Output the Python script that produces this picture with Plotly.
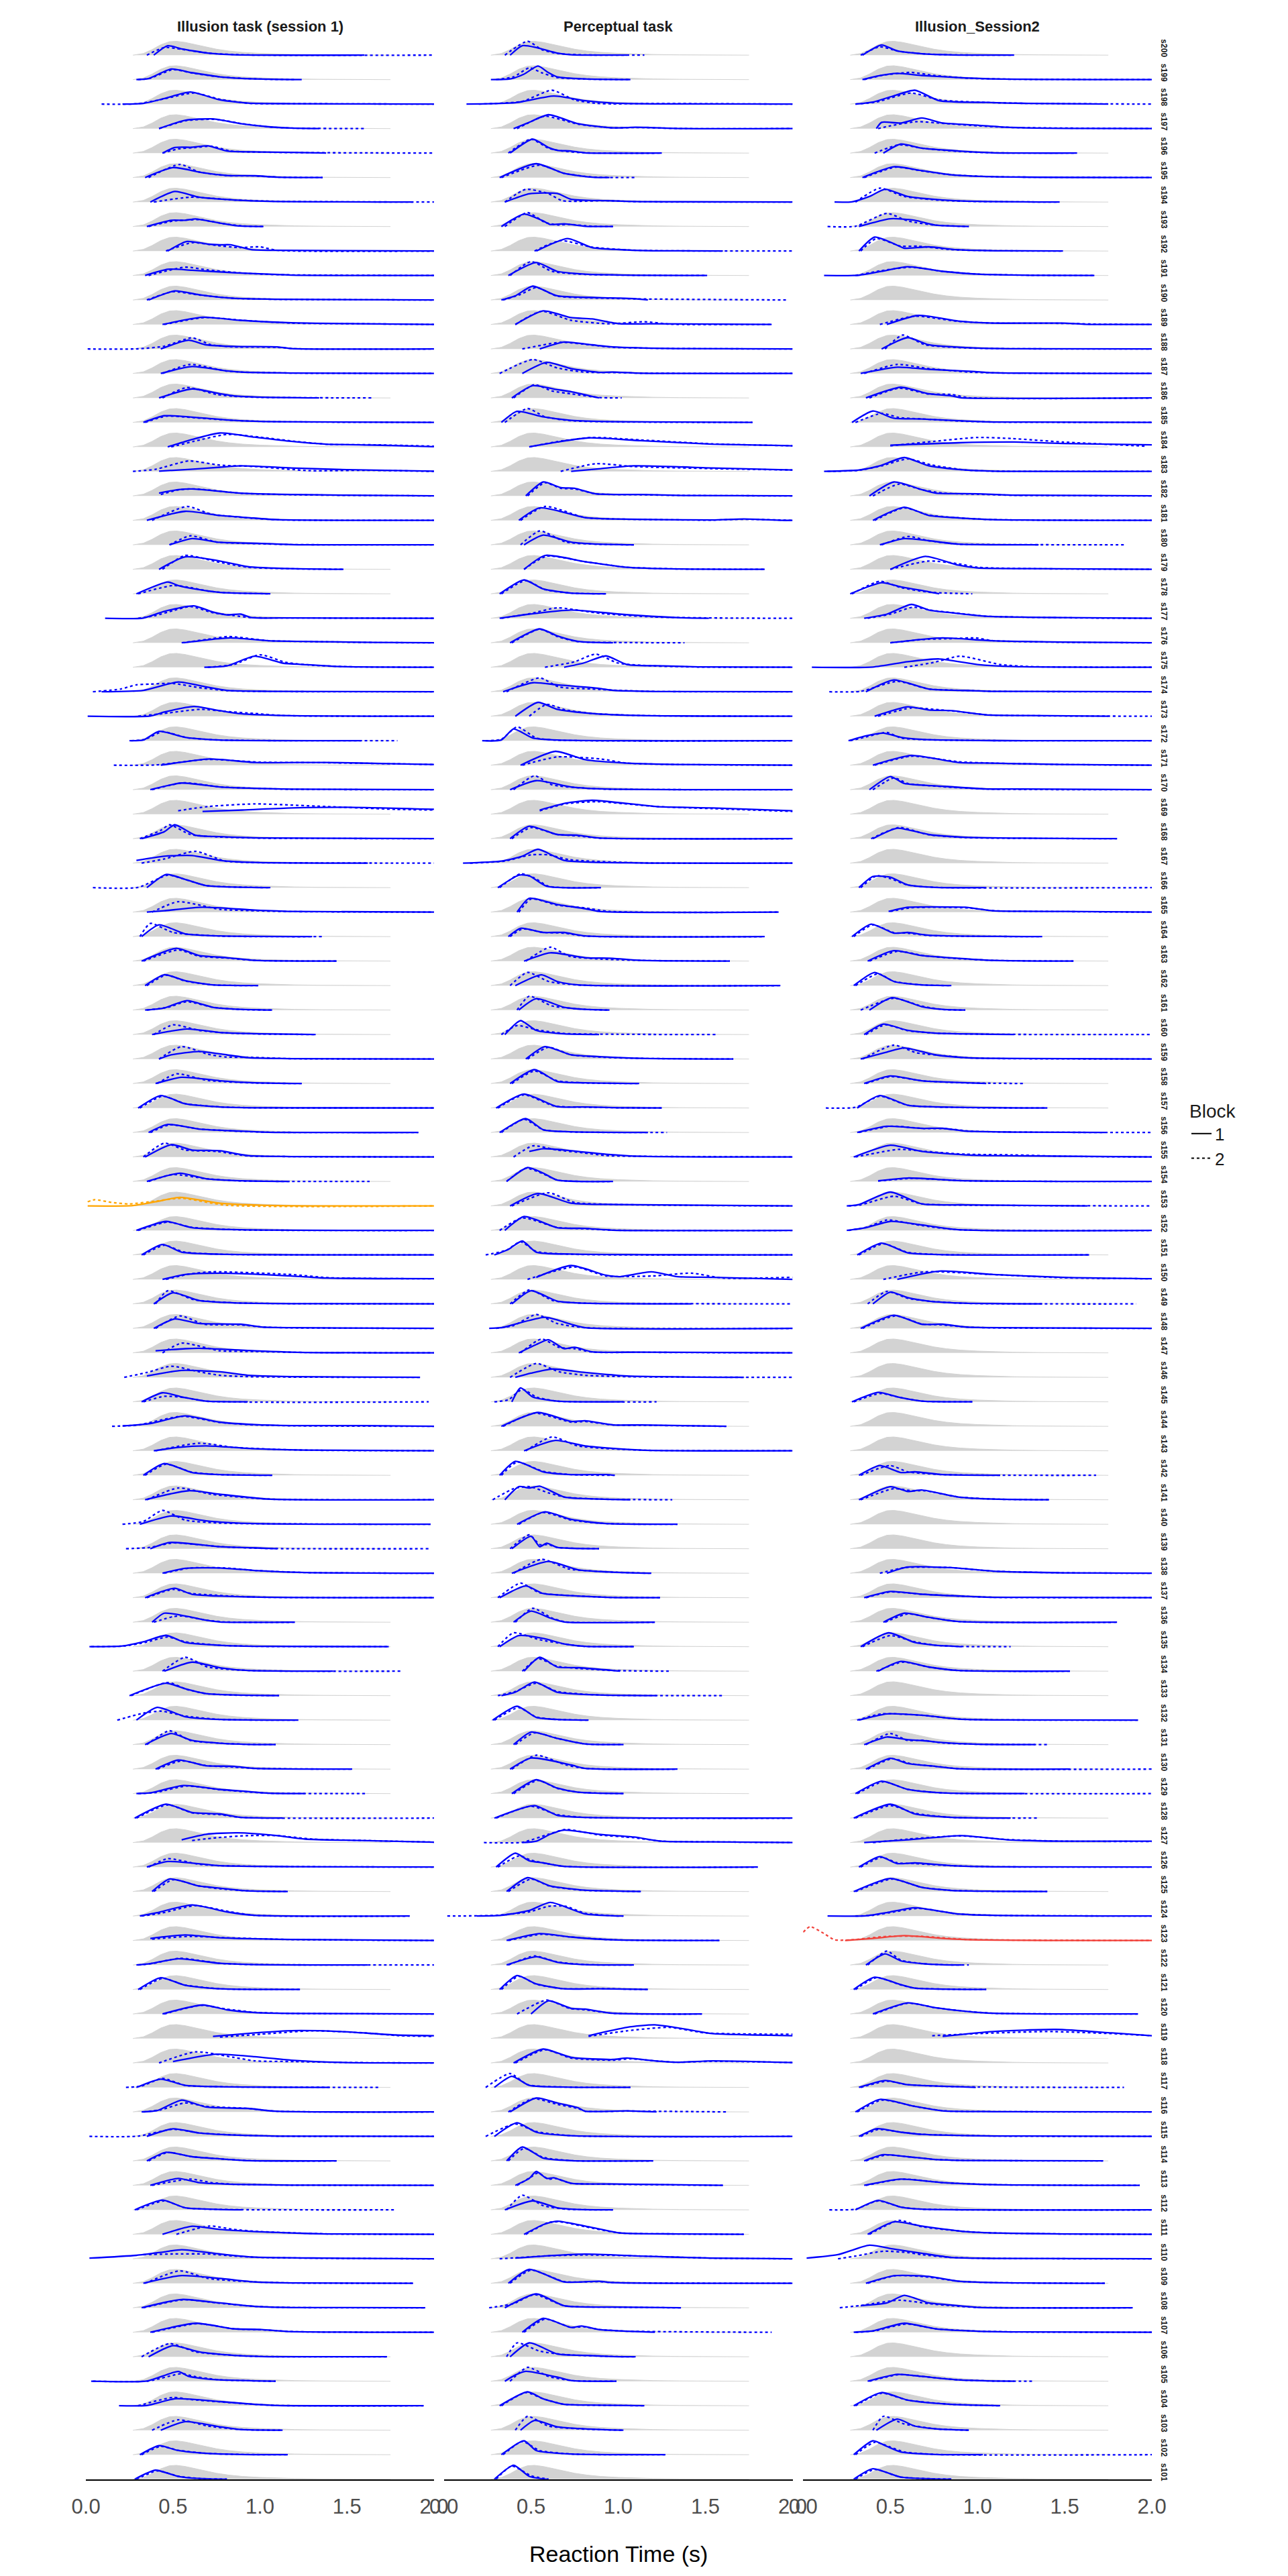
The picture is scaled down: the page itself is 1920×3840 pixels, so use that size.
import plotly.graph_objects as go

# ---------------- data ----------------
TASKS = ["Illusion task (session 1)", "Perceptual task", "Illusion_Session2"]
SUBJECTS = ["s%d" % n for n in range(200, 100, -1)]   # top row s200 ... bottom row s101

# group-level reference density (grey), x in s, height relative to its peak
GREY_X = [0.27, 0.33, 0.38, 0.43, 0.48, 0.52, 0.57, 0.62, 0.68, 0.75, 0.82, 0.90, 1.00, 1.10, 1.20, 1.35, 1.50, 1.75]
GREY_H = [0.00, 0.12, 0.40, 0.75, 0.97, 1.00, 0.92, 0.78, 0.60, 0.43, 0.30, 0.20, 0.13, 0.08, 0.05, 0.025, 0.01, 0.00]

# per-subject densities, "x:height" key points ("" = no data)
P1_B1 = [
"0.39:0,0.47:0.68,0.55:0.45,0.62:0.3,0.7:0.15,0.85:0.03,1.6:0",
"0.29:0,0.36:0.08,0.49:0.76,0.61:0.5,0.77:0.2,0.97:0.05,1.24:0",
"0.21:0,0.33:0.05,0.45:0.4,0.6:0.87,0.77:0.3,0.93:0.08,1.18:0.03,2.0:0",
"0.42:0,0.57:0.6,0.73:0.7,0.89:0.35,1.05:0.13,1.18:0.04,1.34:0",
"0.44:0,0.51:0.4,0.61:0.42,0.7:0.52,0.81:0.15,1.0:0.08,1.18:0.05,1.38:0",
"0.34:0,0.5:0.72,0.67:0.35,0.81:0.15,0.97:0.13,1.1:0.03,1.36:0",
"0.37:0,0.51:0.76,0.65:0.35,0.85:0.15,1.05:0.05,1.88:0",
"0.35:0,0.49:0.45,0.57:0.45,0.63:0.55,0.77:0.25,0.87:0.05,1.02:0",
"0.47:0,0.58:0.69,0.7:0.5,0.77:0.45,0.83:0.45,0.95:0.1,1.1:0.05,2.0:0",
"0.34:0,0.47:0.45,0.61:0.38,0.85:0.2,1.1:0.08,1.18:0.03,2.0:0",
"0.36:0,0.51:0.65,0.65:0.38,0.85:0.12,1.1:0.05,2.0:0",
"0.44:0,0.67:0.52,0.89:0.3,1.18:0.12,1.58:0.05,2.0:0",
"0.43:0,0.59:0.63,0.69:0.3,0.85:0.18,1.1:0.15,1.18:0.03,2.0:0",
"0.43:0,0.61:0.5,0.81:0.18,0.89:0.1,1.18:0.03,2.0:0",
"0.42:0,0.61:0.65,0.77:0.3,0.85:0.15,1.01:0.05,1.34:0",
"0.33:0,0.45:0.48,0.61:0.38,0.85:0.15,1.1:0.05,2.0:0",
"0.47:0,0.6:0.5,0.77:1.0,0.97:0.7,1.18:0.4,1.38:0.2,1.66:0.13,2.0:0.02",
"0.42:0.02,0.6:0.15,0.77:0.3,0.89:0.4,1.18:0.25,1.5:0.12,2.0:0.02",
"0.42:0.2,0.53:0.45,0.61:0.5,0.89:0.2,1.18:0.1,1.5:0.05,2.0:0",
"0.35:0,0.57:0.65,0.77:0.35,0.93:0.2,1.1:0.05,2.0:0",
"0.48:0,0.61:0.45,0.77:0.18,1.01:0.1,1.18:0.02,2.0:0",
"0.42:0,0.57:0.9,0.77:0.6,0.93:0.2,1.18:0.05,1.48:0",
"0.29:0,0.47:0.85,0.53:0.6,0.65:0.3,0.77:0.1,1.06:0",
"0.11:0,0.33:0.02,0.45:0.5,0.62:0.9,0.73:0.45,0.81:0.25,0.89:0.3,0.95:0.05,1.18:0.03,2.0:0",
"0.56:0,0.69:0.2,0.83:0.35,1.05:0.15,1.38:0.08,1.66:0.03,2.0:0",
"0.68:0,0.81:0.1,0.97:0.8,1.13:0.3,1.25:0.2,1.46:0.05,2.0:0",
"0.09:0,0.33:0.1,0.53:0.7,0.69:0.35,0.81:0.1,1.05:0.03,2.0:0",
"0.01:0,0.37:0.02,0.45:0.3,0.62:0.7,0.77:0.4,0.89:0.18,1.13:0.05,2.0:0",
"0.25:0,0.33:0.05,0.42:0.68,0.57:0.25,0.77:0.05,1.58:0",
"0.43:0,0.71:0.45,0.97:0.2,1.38:0.2,1.78:0.1,2.0:0.05",
"0.37:0,0.55:0.48,0.77:0.2,0.97:0.1,1.18:0.04,2.0:0",
"0.67:0.2,0.9:0.3,1.18:0.45,1.5:0.5,2.0:0.35",
"0.32:0,0.45:0.5,0.51:1.0,0.63:0.25,0.77:0.15,1.01:0.05,2.0:0",
"0.29:0.2,0.45:0.5,0.61:0.55,0.77:0.2,0.97:0.05,1.62:0",
"0.35:0,0.46:0.95,0.57:0.6,0.69:0.15,1.06:0",
"0.35:0,0.45:0.1,0.67:0.35,0.97:0.15,1.18:0.05,2.0:0",
"0.32:0,0.42:0.85,0.57:0.2,0.77:0.05,1.3:0",
"0.32:0,0.52:0.92,0.65:0.4,0.81:0.25,0.97:0.05,1.44:0",
"0.34:0,0.45:0.78,0.57:0.35,0.73:0.05,0.99:0",
"0.34:0,0.45:0.15,0.58:0.68,0.73:0.2,0.89:0.05,1.07:0",
"0.38:0,0.58:0.4,0.77:0.15,1.01:0.05,1.32:0",
"0.42:0,0.49:0.3,0.65:0.55,0.81:0.3,0.93:0.1,1.18:0.03,2.0:0",
"0.4:0,0.55:0.45,0.77:0.2,0.97:0.05,1.24:0",
"0.3:0,0.43:0.9,0.57:0.3,0.77:0.08,0.97:0.02,2.0:0",
"0.36:0,0.47:0.58,0.65:0.25,0.89:0.1,1.05:0.02,1.91:0",
"0.34:0,0.49:0.89,0.61:0.5,0.77:0.45,0.93:0.1,1.18:0.03,2.0:0",
"0.35:0,0.54:0.6,0.69:0.2,0.89:0.05,1.17:0",
"0.01:0,0.27:0.03,0.4:0.3,0.54:0.62,0.77:0.2,1.1:0.03,2.0:0",
"0.29:0,0.46:0.65,0.61:0.2,0.89:0.05,2.0:0",
"0.32:0,0.44:0.75,0.55:0.2,0.77:0.05,2.0:0",
"0.44:0,0.57:0.35,0.77:0.45,1.18:0.25,1.38:0.1,2.0:0.05",
"0.39:0,0.5:0.8,0.65:0.25,0.85:0.08,1.18:0.02,2.0:0",
"0.39:0,0.51:0.68,0.65:0.35,0.89:0.3,1.01:0.1,1.18:0.05,2.0:0",
"0.4:0.15,0.57:0.3,0.65:0.33,0.97:0.15,1.26:0.03,2.0:0",
"0.35:0.1,0.55:0.5,0.77:0.4,0.93:0.15,1.18:0.05,1.92:0",
"0.32:0,0.44:0.65,0.57:0.3,0.69:0.05,0.93:0",
"0.21:0.03,0.37:0.2,0.57:0.75,0.77:0.3,0.97:0.12,1.18:0.05,1.58:0.05,2.0:0",
"0.39:0,0.53:0.25,0.69:0.35,0.97:0.15,1.26:0.05,2.0:0",
"0.33:0,0.45:0.85,0.61:0.2,0.77:0.05,1.07:0",
"0.34:0,0.59:0.65,0.77:0.4,1.05:0.05,2.0:0",
"0.31:0,0.49:0.6,0.69:0.25,0.97:0.05,1.98:0",
"0.37:0,0.48:0.45,0.77:0.15,1.05:0.03,1.1:0",
"0.44:0,0.57:0.35,0.77:0.38,0.97:0.2,1.26:0.05,2.0:0",
"0.34:0,0.51:0.68,0.61:0.25,0.97:0.05,2.0:0",
"0.38:0,0.45:0.65,0.57:0.45,0.69:0.15,0.77:0.02,1.2:0",
"0.02:0,0.21:0.05,0.33:0.35,0.46:0.82,0.57:0.3,0.77:0.1,0.97:0.03,1.74:0",
"0.45:0,0.61:0.65,0.77:0.25,0.93:0.05,1.42:0",
"0.25:0,0.46:0.9,0.57:0.5,0.69:0.15,0.85:0.05,1.11:0",
"0.29:0,0.41:0.92,0.57:0.25,0.77:0.05,1.22:0",
"0.34:0,0.49:0.8,0.61:0.3,0.77:0.1,0.93:0.02,1.09:0",
"0.4:0,0.53:0.65,0.69:0.25,0.85:0.2,0.97:0.05,1.53:0",
"0.29:0,0.37:0.05,0.56:0.58,0.77:0.3,0.93:0.15,1.05:0.03,1.26:0",
"0.28:0,0.46:1.0,0.61:0.4,0.77:0.3,0.89:0.05,1.13:0",
"0.55:0.2,0.69:0.6,0.87:0.7,1.1:0.5,1.26:0.25,1.58:0.15,2.0:0.03",
"0.35:0,0.47:0.4,0.77:0.1,1.18:0.03,2.0:0",
"0.38:0,0.48:0.9,0.65:0.4,0.77:0.25,0.93:0.05,1.16:0",
"0.31:0,0.41:0.25,0.61:0.8,0.81:0.3,0.97:0.05,1.86:0",
"0.37:0.15,0.57:0.4,0.77:0.2,1.18:0.08,2.0:0",
"0.29:0,0.37:0.1,0.53:0.45,0.77:0.12,0.97:0.03,1.62:0",
"0.3:0,0.43:0.85,0.57:0.3,0.77:0.05,1.23:0",
"0.44:0,0.67:0.65,0.81:0.3,0.97:0.1,1.18:0.04,2.0:0",
"0.73:0.15,0.97:0.4,1.18:0.56,1.46:0.5,1.78:0.25,2.0:0.2",
"0.5:0.1,0.75:0.63,0.97:0.45,1.18:0.2,1.5:0.03,2.0:0",
"0.29:0,0.43:0.6,0.57:0.15,0.77:0.05,1.4:0",
"0.32:0,0.41:0.1,0.55:0.85,0.69:0.35,0.93:0.25,1.09:0.05,2.0:0",
"0.35:0,0.5:0.55,0.65:0.25,0.85:0.1,1.1:0.02,2.0:0",
"0.35:0,0.46:0.62,0.61:0.3,0.77:0.15,0.93:0.02,1.44:0",
"0.37:0,0.53:0.5,0.65:0.2,0.85:0.08,1.18:0.02,2.0:0",
"0.28:0,0.44:0.7,0.57:0.15,0.77:0.03,0.9:0",
"0.44:0,0.61:0.58,0.77:0.35,0.97:0.2,1.18:0.1,1.38:0.03,2.0:0",
"0.02:0.05,0.29:0.25,0.45:0.5,0.55:0.66,0.77:0.35,0.97:0.12,1.38:0.05,2.0:0",
"0.33:0,0.54:0.55,0.77:0.35,0.97:0.1,1.18:0.03,1.88:0",
"0.32:0,0.55:0.6,0.77:0.35,0.97:0.1,1.18:0.02,1.95:0",
"0.37:0,0.63:0.65,0.85:0.25,1.01:0.2,1.18:0.05,2.0:0",
"0.36:0,0.5:0.8,0.65:0.35,0.85:0.1,1.01:0.02,1.73:0",
"0.03:0,0.35:0.02,0.53:0.7,0.59:0.35,0.67:0.2,0.77:0.1,1.09:0",
"0.19:0,0.35:0.02,0.51:0.5,0.77:0.3,0.97:0.1,1.1:0.02,1.94:0",
"0.43:0,0.57:0.62,0.77:0.25,0.89:0.05,1.13:0",
"0.31:0,0.42:0.65,0.53:0.3,0.69:0.1,0.89:0.02,1.16:0",
"0.28:0,0.4:0.65,0.53:0.2,0.65:0.05,0.81:0",
]

P1_B2 = [
"0.35:0,0.45:0.55,0.55:0.42,0.7:0.15,0.9:0.02,2.0:0",
"0.3:0,0.37:0.1,0.5:0.72,0.62:0.45,0.77:0.2,0.97:0.05,1.2:0",
"0.09:0,0.3:0.03,0.45:0.38,0.62:0.8,0.77:0.35,0.93:0.06,1.2:0.03,2.0:0",
"0.42:0,0.58:0.58,0.75:0.66,0.9:0.35,1.05:0.12,1.2:0.03,1.6:0",
"0.44:0,0.53:0.3,0.63:0.4,0.72:0.5,0.83:0.15,1.1:0.05,2.0:0",
"0.36:0,0.54:0.95,0.65:0.4,0.81:0.14,0.97:0.12,1.1:0.03,1.36:0",
"0.39:0,0.6:0.35,0.85:0.15,1.1:0.05,2.0:0",
"0.36:0,0.5:0.4,0.6:0.48,0.66:0.5,0.78:0.22,0.9:0.04,1.02:0",
"0.46:0,0.61:0.6,0.75:0.4,0.88:0.25,1.0:0.3,1.1:0.05,2.0:0",
"0.36:0,0.57:0.6,0.7:0.4,0.9:0.18,1.1:0.06,2.0:0",
"0.35:0,0.5:0.6,0.65:0.36,0.85:0.12,1.1:0.05,2.0:0",
"0.45:0,0.68:0.5,0.9:0.3,1.18:0.1,1.58:0.05,2.0:0",
"0.01:0,0.3:0.01,0.45:0.2,0.61:0.8,0.72:0.3,0.85:0.15,1.1:0.12,1.2:0.02,2.0:0",
"0.44:0,0.6:0.65,0.8:0.18,0.89:0.1,1.18:0.03,2.0:0",
"0.44:0,0.58:0.75,0.75:0.25,0.85:0.12,1.01:0.04,1.64:0",
"0.34:0,0.46:0.45,0.61:0.35,0.85:0.14,1.1:0.05,2.0:0",
"0.49:0,0.62:0.4,0.81:0.9,1.0:0.7,1.2:0.4,1.4:0.18,1.66:0.15,2.0:0.05",
"0.27:0,0.4:0.15,0.59:0.75,0.77:0.45,0.97:0.35,1.29:0.05,1.6:0.08,2.0:0",
"0.43:0.1,0.54:0.45,0.63:0.5,0.9:0.18,1.2:0.08,1.5:0.04,2.0:0",
"0.38:0,0.58:1.0,0.72:0.45,0.93:0.18,1.1:0.04,2.0:0",
"0.48:0,0.6:0.65,0.75:0.2,1.0:0.08,1.18:0.02,2.0:0",
"0.44:0,0.57:1.0,0.75:0.55,0.93:0.15,1.18:0.04,1.48:0",
"0.3:0,0.5:0.6,0.6:0.45,0.7:0.2,0.8:0.08,1.06:0",
"0.3:0,0.4:0.2,0.5:0.55,0.6:0.85,0.73:0.4,0.85:0.2,0.95:0.05,1.2:0.03,2.0:0",
"0.55:0,0.7:0.25,0.82:0.45,1.05:0.15,1.38:0.07,1.66:0.02,2.0:0",
"0.7:0,0.85:0.2,1.0:0.9,1.15:0.35,1.3:0.15,1.5:0.04,2.0:0",
"0.04:0,0.2:0.2,0.29:0.5,0.37:0.55,0.5:0.6,0.65:0.3,0.81:0.08,1.05:0.02,2.0:0",
"0.3:0,0.45:0.2,0.66:0.5,0.8:0.35,0.97:0.2,1.13:0.05,2.0:0",
"0.26:0,0.34:0.1,0.44:0.65,0.58:0.22,0.77:0.05,1.79:0",
"0.16:0,0.4:0.02,0.7:0.42,1.0:0.22,1.38:0.18,1.78:0.1,2.0:0.05",
"0.38:0,0.56:0.5,0.77:0.2,0.97:0.1,1.18:0.03,2.0:0",
"0.53:0.25,0.7:0.55,0.97:0.74,1.38:0.55,1.78:0.35,2.0:0.3",
"0.31:0,0.43:0.6,0.48:1.0,0.6:0.3,0.77:0.12,1.01:0.04,2.0:0",
"0.32:0,0.45:0.3,0.63:0.85,0.8:0.15,0.97:0.04,1.3:0.02,2.0:0",
"0.04:0,0.3:0.02,0.47:0.9,0.58:0.55,0.69:0.15,1.06:0",
"0.38:0,0.53:0.75,0.77:0.2,0.97:0.1,1.18:0.04,2.0:0",
"0.31:0,0.37:0.95,0.5:0.3,0.77:0.04,1.36:0",
"0.33:0,0.53:0.8,0.65:0.35,0.81:0.22,0.97:0.05,1.44:0",
"0.35:0,0.46:0.75,0.57:0.33,0.73:0.05,0.99:0",
"0.35:0,0.47:0.2,0.58:0.6,0.73:0.2,0.89:0.04,1.07:0",
"0.39:0,0.5:0.7,0.65:0.3,0.8:0.12,1.01:0.04,1.32:0",
"0.42:0,0.55:0.9,0.7:0.35,0.8:0.15,0.95:0.12,1.18:0.03,2.0:0",
"0.41:0,0.52:0.7,0.7:0.22,0.97:0.04,1.24:0",
"0.31:0,0.44:0.85,0.57:0.32,0.77:0.08,0.97:0.02,2.0:0",
"0.37:0,0.48:0.55,0.65:0.25,0.89:0.08,1.05:0.02,1.91:0",
"0.33:0,0.45:1.0,0.57:0.5,0.75:0.4,0.93:0.08,1.18:0.03,2.0:0",
"0.36:0,0.5:0.5,0.69:0.2,0.89:0.04,1.63:0",
"0.01:0.3,0.05:0.45,0.15:0.25,0.25:0.15,0.4:0.35,0.55:0.55,0.81:0.05,2.0:0",
"0.3:0,0.47:0.6,0.61:0.22,0.89:0.04,2.0:0",
"0.33:0,0.45:0.7,0.56:0.22,0.77:0.05,2.0:0",
"0.46:0,0.6:0.4,0.73:0.55,1.18:0.35,1.4:0.12,2.0:0.05",
"0.4:0,0.47:0.95,0.62:0.3,0.85:0.08,1.18:0.02,2.0:0",
"0.4:0,0.54:0.9,0.68:0.3,0.89:0.25,1.01:0.1,1.18:0.04,2.0:0",
"0.44:0,0.55:0.7,0.77:0.15,0.97:0.1,1.26:0.03,2.0:0",
"0.22:0,0.35:0.35,0.49:0.8,0.65:0.4,0.77:0.15,0.93:0.05,1.92:0",
"0.33:0,0.45:0.4,0.57:0.3,0.69:0.05,1.97:0",
"0.15:0,0.3:0.1,0.55:0.72,0.77:0.28,0.97:0.1,1.2:0.04,2.0:0",
"0.4:0,0.65:0.55,0.85:0.25,1.1:0.1,1.3:0.04,2.0:0",
"0.34:0,0.46:0.8,0.61:0.22,0.77:0.05,1.07:0",
"0.35:0,0.53:0.85,0.72:0.4,1.05:0.05,2.0:0",
"0.21:0,0.33:0.2,0.44:1.0,0.57:0.3,0.75:0.1,0.97:0.04,1.98:0",
"0.23:0,0.37:0.1,0.5:0.42,0.77:0.15,1.05:0.02,1.98:0",
"0.45:0,0.6:0.38,0.8:0.38,0.97:0.2,1.26:0.05,2.0:0",
"0.35:0,0.5:0.6,0.61:0.3,0.97:0.05,2.0:0",
"0.39:0,0.5:0.4,0.55:0.45,0.69:0.15,0.8:0.02,1.2:0",
"0.03:0,0.22:0.05,0.34:0.3,0.47:0.7,0.57:0.35,0.77:0.1,0.97:0.03,1.74:0",
"0.44:0,0.57:1.0,0.7:0.3,0.93:0.05,1.81:0",
"0.26:0,0.47:0.95,0.58:0.45,0.69:0.15,0.85:0.04,1.11:0",
"0.18:0,0.33:0.5,0.43:0.65,0.57:0.3,0.77:0.05,1.22:0",
"0.35:0,0.48:1.0,0.6:0.3,0.77:0.1,0.93:0.02,1.09:0",
"0.41:0,0.55:0.6,0.69:0.25,0.85:0.15,0.97:0.05,1.53:0",
"0.3:0,0.4:0.08,0.58:0.55,0.77:0.28,0.93:0.12,1.05:0.03,1.62:0",
"0.29:0,0.47:0.95,0.61:0.38,0.77:0.25,0.89:0.05,2.0:0",
"0.61:0.15,0.75:0.35,0.93:0.5,1.1:0.5,1.3:0.25,1.6:0.15,2.0:0.03",
"0.36:0,0.47:0.6,0.65:0.2,0.77:0.1,1.18:0.03,2.0:0",
"0.39:0,0.5:0.85,0.65:0.4,0.77:0.2,0.93:0.05,1.16:0",
"0.32:0,0.43:0.2,0.63:0.75,0.81:0.35,0.97:0.05,1.86:0",
"0.38:0.1,0.6:0.3,0.8:0.2,1.18:0.07,2.0:0",
"0.3:0,0.38:0.1,0.54:0.48,0.77:0.12,0.97:0.03,2.0:0",
"0.31:0,0.44:0.8,0.57:0.32,0.77:0.05,1.23:0",
"0.45:0,0.66:0.62,0.81:0.35,0.97:0.12,1.18:0.04,2.0:0",
"0.77:0.1,1.0:0.3,1.3:0.55,1.6:0.4,1.8:0.2,2.0:0.15",
"0.42:0,0.63:0.8,0.85:0.4,0.97:0.15,1.2:0.1,1.5:0.03,2.0:0",
"0.23:0,0.32:0.1,0.44:0.65,0.57:0.15,0.77:0.05,1.69:0",
"0.33:0,0.43:0.15,0.57:0.65,0.69:0.4,0.93:0.25,1.09:0.05,2.0:0",
"0.02:0,0.3:0.02,0.5:0.52,0.65:0.25,0.85:0.1,1.1:0.02,2.0:0",
"0.36:0,0.47:0.6,0.61:0.3,0.77:0.15,0.93:0.02,1.44:0",
"0.38:0,0.6:0.45,0.72:0.2,0.85:0.08,1.18:0.02,2.0:0",
"0.29:0,0.45:0.65,0.57:0.15,0.77:0.03,1.78:0",
"0.52:0,0.71:0.6,0.85:0.35,1.0:0.2,1.2:0.1,1.4:0.03,2.0:0",
"0.33:0.3,0.5:0.35,0.7:0.35,0.85:0.2,1.0:0.1,1.38:0.04,2.0:0",
"0.34:0,0.54:0.9,0.7:0.35,0.97:0.1,1.18:0.03,1.88:0",
"0.33:0,0.56:0.58,0.77:0.33,0.97:0.1,1.18:0.02,1.95:0",
"0.38:0,0.64:0.62,0.85:0.25,1.01:0.18,1.18:0.05,2.0:0",
"0.32:0,0.48:0.95,0.63:0.35,0.85:0.1,1.01:0.02,1.73:0",
"0.04:0,0.36:0.02,0.55:0.55,0.62:0.35,0.7:0.2,0.77:0.1,1.09:0",
"0.3:0,0.5:0.6,0.6:0.45,0.77:0.28,0.97:0.1,1.1:0.02,1.94:0",
"0.38:0,0.53:0.75,0.7:0.3,0.89:0.05,1.13:0",
"0.32:0,0.43:0.6,0.53:0.32,0.69:0.1,0.89:0.02,1.16:0",
"0.29:0,0.41:0.6,0.53:0.22,0.65:0.05,0.81:0",
]

P2_B1 = [
"0.38:0,0.45:0.68,0.53:0.55,0.65:0.15,0.73:0.03,1.05:0",
"0.27:0,0.38:0.05,0.46:0.4,0.54:0.98,0.6:0.5,0.65:0.2,0.81:0.05,1.07:0",
"0.13:0,0.41:0.1,0.63:0.58,0.81:0.25,0.97:0.08,1.2:0.02,2.0:0",
"0.4:0,0.48:0.4,0.6:1.0,0.77:0.35,0.97:0.05,1.1:0.1,1.18:0.08,1.38:0,2.0:0",
"0.38:0,0.51:1.0,0.6:0.4,0.65:0.2,0.73:0.15,0.81:0.02,1.25:0",
"0.32:0,0.53:1.0,0.69:0.3,0.85:0.03,0.95:0",
"0.35:0,0.49:0.6,0.65:0.62,0.73:0.2,0.93:0.1,1.13:0.03,2.0:0",
"0.33:0,0.46:0.9,0.57:0.4,0.61:0.15,0.69:0.2,0.81:0.02,0.97:0",
"0.53:0,0.71:0.9,0.85:0.25,1.05:0.08,1.2:0.02,1.6:0",
"0.37:0,0.53:0.93,0.65:0.3,0.81:0.1,1.09:0.02,1.51:0",
"0.33:0,0.41:0.3,0.51:1.0,0.65:0.3,0.97:0.15,1.09:0.1,1.17:0",
"0.41:0,0.57:0.98,0.73:0.5,0.85:0.4,1.01:0.05,1.18:0.05,1.88:0",
"0.55:0,0.69:0.5,0.85:0.3,0.97:0.15,1.34:0.03,2.0:0",
"0.45:0,0.59:0.8,0.73:0.35,0.89:0.08,0.97:0.1,1.13:0.02,2.0:0",
"0.39:0,0.51:0.88,0.65:0.6,0.73:0.45,0.89:0",
"0.33:0,0.42:0.8,0.57:0.4,0.73:0.15,0.97:0.05,1.77:0",
"0.49:0,0.65:0.35,0.83:0.65,1.13:0.45,1.54:0.2,1.94:0.1,2.0:0.08",
"0.73:0,0.9:0.2,1.09:0.4,1.54:0.25,2.0:0.1",
"0.47:0,0.57:1.0,0.67:0.6,0.75:0.55,0.87:0.15,1.13:0.1,1.38:0.03,2.0:0",
"0.43:0,0.55:0.9,0.81:0.2,0.97:0.1,1.54:0.03,1.72:0.1,1.94:0,2.0:0",
"0.46:0,0.57:0.7,0.73:0.2,0.89:0.05,1.09:0",
"0.46:0,0.58:1.0,0.81:0.55,1.05:0.15,1.34:0.03,1.84:0",
"0.32:0,0.46:1.0,0.57:0.35,0.73:0.05,0.93:0",
"0.32:0,0.49:0.3,0.73:0.6,1.01:0.3,1.34:0.05,1.52:0",
"0.38:0,0.55:1.0,0.65:0.5,0.77:0.1,0.97:0",
"0.69:0,0.8:0.3,0.93:0.82,1.05:0.2,1.26:0.1,1.46:0.03,2.0:0",
"0.34:0,0.51:0.65,0.65:0.5,0.89:0.25,0.97:0.1,1.22:0.02,2.0:0",
"0.41:0,0.54:1.0,0.65:0.5,0.85:0.2,1.13:0.05,2.0:0",
"0.22:0,0.33:0.05,0.4:0.85,0.51:0.2,0.65:0.05,2.0:0",
"0.44:0,0.64:1.0,0.81:0.4,1.05:0.15,1.34:0.05,2.0:0",
"0.38:0,0.53:0.65,0.73:0.2,0.93:0.05,2.0:0",
"0.55:0.3,0.7:0.8,0.85:1.0,1.22:0.55,1.54:0.45,2.0:0.25",
"0.38:0,0.49:0.9,0.65:0.3,0.77:0.25,0.89:0.05,2.0:0",
"0.11:0,0.33:0.15,0.45:0.5,0.54:1.0,0.69:0.2,1.13:0.02,2.0:0",
"0.31:0,0.43:0.9,0.49:0.85,0.59:0.1,0.9:0",
"0.42:0,0.49:1.0,0.65:0.55,0.81:0.25,0.89:0.05,1.92:0",
"0.37:0,0.44:0.6,0.57:0.3,0.69:0.3,0.81:0.05,1.84:0",
"0.46:0,0.61:0.6,0.81:0.25,0.97:0.2,1.13:0.05,1.64:0",
"0.41:0,0.56:0.78,0.65:0.3,0.77:0.05,1.93:0",
"0.43:0,0.53:0.82,0.69:0.2,0.81:0.05,0.95:0",
"0.35:0,0.44:1.0,0.53:0.3,0.69:0.05,0.89:0",
"0.47:0,0.58:0.9,0.73:0.3,0.93:0.15,1.13:0.05,1.66:0",
"0.38:0,0.52:1.0,0.65:0.15,0.81:0.05,1.12:0",
"0.3:0,0.46:1.0,0.65:0.1,0.81:0.08,1.0:0.02,1.25:0",
"0.32:0,0.47:1.0,0.57:0.2,0.73:0.05,1.17:0",
"0.49:0.4,0.57:0.6,0.73:0.45,0.93:0.2,1.13:0.05,2.0:0",
"0.36:0,0.48:1.0,0.57:0.6,0.65:0.1,0.97:0",
"0.38:0,0.54:0.9,0.73:0.2,1.01:0.1,2.0:0",
"0.35:0,0.46:1.0,0.65:0.2,0.81:0.15,0.97:0.02,2.0:0",
"0.29:0,0.37:0.4,0.45:1.0,0.53:0.2,0.73:0.06,2.0:0",
"0.53:0.15,0.73:1.0,0.93:0.3,1.01:0.2,1.19:0.55,1.34:0.2,1.54:0.15,2.0:0",
"0.39:0,0.5:0.95,0.65:0.2,0.81:0.05,1.42:0",
"0.26:0,0.33:0.05,0.58:0.8,0.73:0.3,0.81:0.05,2.0:0",
"0.43:0,0.53:0.6,0.6:0.95,0.69:0.3,0.75:0.4,0.85:0.08,1.13:0.05,2.0:0",
"0.41:0,0.5:0.3,0.62:0.6,0.81:0.35,1.05:0.1,1.72:0",
"0.39:0,0.44:1.0,0.51:0.35,0.65:0.05,1.03:0",
"0.33:0,0.54:1.0,0.73:0.35,0.81:0.4,0.97:0.1,1.13:0.1,1.62:0",
"0.46:0,0.64:0.75,0.81:0.35,1.13:0.05,2.0:0",
"0.32:0,0.41:1.0,0.57:0.25,0.73:0.05,0.93:0.05,0.98:0",
"0.35:0,0.43:0.95,0.49:0.85,0.55:0.98,0.69:0.2,0.89:0.05,1.07:0",
"0.42:0,0.58:0.9,0.73:0.35,0.93:0.05,1.34:0",
"0.39:0,0.5:0.9,0.55:0.15,0.59:0.4,0.65:0.1,0.89:0",
"0.39:0,0.6:0.85,0.77:0.25,0.97:0.08,1.19:0",
"0.32:0,0.47:0.85,0.57:0.3,0.81:0.1,0.97:0.02,1.24:0",
"0.4:0,0.5:0.8,0.61:0.3,0.69:0.02,1.21:0",
"0.32:0,0.43:0.8,0.57:0.6,0.69:0.2,0.81:0.03,1.09:0",
"0.46:0,0.55:1.0,0.65:0.3,0.77:0.25,0.97:0.05,1.01:0",
"0.33:0,0.41:0.25,0.52:0.98,0.65:0.25,0.89:0.05,1.22:0",
"0.28:0,0.42:1.0,0.53:0.2,0.65:0.05,0.83:0",
"0.4:0,0.5:0.9,0.65:0.45,0.81:0.05,1.03:0",
"0.38:0,0.5:0.8,0.73:0.3,0.81:0.05,1.34:0",
"0.39:0,0.53:1.0,0.65:0.4,0.77:0.1,1.03:0",
"0.29:0,0.52:0.9,0.65:0.2,0.81:0.05,2.0:0",
"0.45:0,0.53:0.1,0.61:0.6,0.69:0.9,0.89:0.6,1.09:0.4,1.25:0.1,1.54:0.05,2.0:0",
"0.3:0,0.41:1.0,0.49:0.45,0.57:0.3,0.69:0.05,1.8:0",
"0.36:0,0.48:1.0,0.61:0.4,0.81:0.1,1.05:0.02,1.13:0",
"0.19:0,0.33:0.05,0.49:0.4,0.61:0.98,0.81:0.15,0.97:0.02,1.03:0",
"0.36:0,0.55:0.5,0.73:0.25,0.97:0.05,1.58:0",
"0.36:0,0.53:0.6,0.65:0.2,0.81:0.03,1.09:0",
"0.32:0,0.42:1.0,0.53:0.4,0.69:0.05,0.89:0.05,1.17:0",
"0.5:0,0.6:0.95,0.73:0.4,0.81:0.35,0.97:0.05,1.48:0",
"0.83:0.2,1.05:0.8,1.21:0.98,1.42:0.6,1.54:0.35,2.0:0.2",
"0.4:0,0.57:1.0,0.73:0.4,0.97:0.25,1.05:0.35,1.21:0.15,1.34:0.05,1.54:0.15,2.0:0.03",
"0.29:0,0.39:0.8,0.49:0.15,0.73:0.02,1.07:0",
"0.38:0,0.53:1.0,0.65:0.65,0.77:0.3,0.81:0.05,1.05:0.08,1.22:0",
"0.29:0,0.42:0.98,0.53:0.3,0.73:0.05,2.0:0",
"0.36:0,0.45:1.0,0.57:0.2,0.73:0.02,1.2:0",
"0.41:0,0.49:0.5,0.53:1.0,0.59:0.5,0.63:0.55,0.73:0.15,0.97:0.1,1.6:0",
"0.35:0,0.51:0.65,0.65:0.15,0.77:0.03,0.97:0",
"0.46:0,0.57:0.7,0.65:0.95,0.81:0.6,1.01:0.1,1.34:0.03,1.72:0",
"0.41:0.05,0.57:0.2,0.81:0.34,1.13:0.2,1.54:0.05,2.0:0",
"0.37:0,0.49:1.0,0.69:0.1,0.89:0.15,0.97:0.05,2.0:0",
"0.35:0,0.53:1.0,0.69:0.15,0.97:0.05,1.36:0",
"0.45:0,0.57:1.0,0.73:0.35,0.79:0.45,0.89:0.2,1.05:0.08,1.21:0",
"0.38:0,0.49:1.0,0.65:0.2,0.81:0.1,0.97:0.02,1.1:0",
"0.35:0,0.41:0.45,0.47:0.72,0.65:0.3,0.73:0.05,0.99:0",
"0.32:0,0.48:1.0,0.57:0.5,0.69:0.1,0.81:0.05,1.15:0",
"0.44:0,0.52:0.7,0.65:0.25,0.81:0.1,0.97:0.02,1.03:0",
"0.33:0,0.46:1.0,0.53:0.3,0.73:0.05,1.27:0",
"0.29:0,0.4:1.0,0.49:0.2,0.57:0.02,0.6:0",
]

P2_B2 = [
"0.35:0,0.48:1.0,0.56:0.4,0.65:0.12,0.8:0.02,1.15:0",
"0.3:0,0.4:0.2,0.49:0.85,0.56:0.5,0.65:0.15,0.81:0.04,1.07:0",
"0.2:0,0.45:0.2,0.62:1.0,0.75:0.3,0.88:0.05,0.97:0.02,1.2:0.04,2.0:0",
"0.42:0,0.5:0.5,0.58:0.9,0.77:0.32,0.97:0.05,1.1:0.08,1.38:0,2.0:0",
"0.37:0,0.5:1.0,0.6:0.35,0.68:0.15,0.81:0.02,1.25:0",
"0.33:0,0.55:0.9,0.69:0.3,0.85:0.04,1.1:0",
"0.35:0,0.47:0.92,0.6:0.6,0.68:0.1,0.93:0.1,1.13:0.02,2.0:0",
"0.35:0,0.48:1.0,0.58:0.3,0.65:0.12,0.72:0.15,0.85:0.02,0.97:0",
"0.52:0,0.67:0.75,0.85:0.28,1.05:0.08,1.25:0.02,2.0:0",
"0.38:0,0.5:1.0,0.62:0.3,0.81:0.08,1.09:0.02,1.51:0",
"0.34:0,0.44:0.4,0.53:0.9,0.65:0.28,0.97:0.12,1.09:0.08,1.97:0",
"0.41:0,0.56:0.95,0.73:0.3,0.95:0.05,1.15:0.2,1.3:0.02,1.88:0",
"0.45:0,0.67:0.48,0.85:0.28,0.97:0.12,1.34:0.03,2.0:0",
"0.32:0,0.51:1.0,0.65:0.4,0.8:0.1,1.0:0.06,1.13:0.02,2.0:0",
"0.4:0,0.52:0.95,0.62:0.5,0.73:0.3,0.89:0.03,1.02:0",
"0.35:0,0.48:1.0,0.58:0.4,0.73:0.12,0.97:0.04,1.77:0",
"0.49:0,0.65:0.38,0.85:0.68,1.13:0.5,1.54:0.22,2.0:0.08",
"0.67:0,0.87:0.55,1.09:0.35,1.54:0.2,2.0:0.1",
"0.48:0,0.58:0.95,0.67:0.55,0.75:0.5,0.87:0.15,1.13:0.08,1.38:0.03,2.0:0",
"0.44:0,0.58:1.0,0.81:0.2,0.97:0.1,1.54:0.02,1.72:0.08,2.0:0",
"0.44:0,0.55:1.0,0.7:0.2,0.89:0.04,1.09:0",
"0.46:0,0.59:0.95,0.81:0.55,1.05:0.15,1.34:0.03,1.84:0",
"0.33:0,0.47:0.95,0.58:0.3,0.73:0.05,0.93:0",
"0.33:0,0.5:0.35,0.65:0.75,0.9:0.35,1.2:0.1,1.5:0.03,2.0:0",
"0.39:0,0.55:0.98,0.65:0.45,0.77:0.08,1.0:0.02,1.38:0",
"0.58:0,0.75:0.4,0.87:0.95,1.0:0.3,1.2:0.1,1.46:0.02,2.0:0",
"0.36:0,0.55:1.0,0.66:0.35,0.85:0.2,1.0:0.1,1.22:0.02,2.0:0",
"0.49:0,0.59:0.85,0.7:0.45,0.85:0.2,1.13:0.05,2.0:0",
"0.24:0,0.33:0.1,0.42:1.0,0.53:0.2,0.65:0.04,2.0:0",
"0.45:0,0.65:0.6,0.9:0.45,1.05:0.15,1.34:0.05,2.0:0",
"0.4:0,0.52:1.0,0.62:0.35,0.8:0.12,0.93:0.04,2.0:0",
"0.55:0.25,0.7:0.75,0.88:0.9,1.22:0.55,1.54:0.4,2.0:0.2",
"0.39:0,0.5:0.8,0.65:0.3,0.77:0.2,0.89:0.04,2.0:0",
"0.15:0,0.35:0.15,0.5:0.6,0.6:0.6,0.72:0.25,1.13:0.02,2.0:0",
"0.32:0,0.44:1.0,0.52:0.7,0.6:0.1,0.9:0",
"0.43:0,0.5:0.95,0.65:0.5,0.81:0.3,0.95:0.05,1.92:0",
"0.38:0,0.45:0.55,0.57:0.3,0.69:0.25,0.81:0.04,1.84:0",
"0.47:0,0.61:1.0,0.72:0.35,0.9:0.15,1.13:0.05,1.64:0",
"0.38:0,0.48:0.95,0.6:0.3,0.77:0.04,1.93:0",
"0.42:0,0.49:1.0,0.62:0.3,0.81:0.05,0.95:0",
"0.33:0,0.42:0.65,0.53:0.35,0.69:0.08,1.0:0.02,1.56:0",
"0.48:0,0.6:0.85,0.73:0.3,0.93:0.12,1.13:0.05,1.66:0",
"0.39:0,0.52:0.9,0.65:0.2,0.81:0.04,1.12:0",
"0.31:0,0.46:0.95,0.63:0.15,0.81:0.06,1.0:0.02,1.25:0",
"0.33:0,0.46:0.95,0.57:0.2,0.73:0.04,1.28:0",
"0.4:0,0.51:0.8,0.65:0.5,0.8:0.3,0.93:0.1,1.13:0.05,2.0:0",
"0.36:0,0.47:0.95,0.57:0.55,0.65:0.1,0.97:0",
"0.39:0,0.6:0.95,0.75:0.25,1.01:0.1,2.0:0",
"0.32:0,0.45:0.9,0.65:0.22,0.81:0.12,0.97:0.02,2.0:0",
"0.24:0,0.36:0.35,0.44:0.95,0.53:0.25,0.73:0.05,2.0:0",
"0.48:0,0.75:0.9,0.93:0.25,1.2:0.25,1.42:0.45,1.6:0.1,2.0:0.15",
"0.38:0,0.49:1.0,0.63:0.22,0.81:0.05,1.2:0.02,2.0:0",
"0.3:0,0.4:0.2,0.53:1.0,0.65:0.35,0.81:0.05,2.0:0",
"0.44:0,0.56:1.0,0.66:0.4,0.75:0.3,0.85:0.06,1.13:0.04,2.0:0",
"0.38:0,0.53:1.0,0.66:0.4,0.81:0.15,1.05:0.05,2.0:0",
"0.29:0,0.37:0.15,0.45:0.9,0.53:0.35,0.65:0.05,1.22:0",
"0.34:0,0.52:0.95,0.73:0.3,0.81:0.35,0.97:0.1,1.13:0.08,1.62:0",
"0.47:0,0.62:1.0,0.77:0.35,1.13:0.05,2.0:0",
"0.33:0,0.42:0.95,0.57:0.28,0.73:0.05,0.98:0",
"0.28:0,0.4:0.8,0.49:0.95,0.6:0.5,0.69:0.2,0.89:0.05,1.31:0",
"0.43:0,0.57:0.85,0.73:0.3,0.93:0.05,1.34:0",
"0.38:0,0.49:1.0,0.55:0.3,0.6:0.3,0.65:0.1,0.89:0",
"0.4:0,0.56:1.0,0.72:0.3,0.97:0.08,1.19:0",
"0.31:0,0.44:1.05,0.55:0.35,0.81:0.1,0.97:0.02,1.24:0",
"0.41:0,0.51:1.0,0.62:0.3,0.7:0.02,1.21:0",
"0.31:0,0.4:1.0,0.55:0.5,0.69:0.2,0.81:0.02,1.09:0",
"0.45:0,0.54:0.9,0.65:0.35,0.77:0.2,0.97:0.05,1.29:0",
"0.31:0,0.41:0.3,0.53:0.9,0.65:0.3,0.89:0.05,1.6:0",
"0.29:0,0.43:0.9,0.53:0.22,0.65:0.05,0.83:0",
"0.41:0,0.52:0.85,0.65:0.45,0.81:0.05,1.03:0",
"0.39:0,0.53:1.0,0.7:0.3,0.81:0.05,1.34:0",
"0.4:0,0.54:0.95,0.65:0.38,0.77:0.1,1.03:0",
"0.3:0,0.5:0.85,0.65:0.25,0.81:0.05,2.0:0",
"0.23:0,0.45:0.02,0.6:0.6,0.7:0.95,0.89:0.55,1.09:0.35,1.25:0.1,1.54:0.05,2.0:0",
"0.31:0,0.43:0.8,0.5:0.5,0.57:0.3,0.69:0.05,1.8:0",
"0.37:0,0.5:0.9,0.61:0.38,0.81:0.08,1.05:0.02,1.13:0",
"0.02:0,0.3:0.05,0.49:0.3,0.6:0.7,0.7:0.7,0.81:0.2,0.97:0.02,1.03:0",
"0.37:0,0.56:0.45,0.73:0.25,0.97:0.05,1.58:0",
"0.37:0,0.52:0.65,0.65:0.22,0.81:0.03,1.09:0",
"0.33:0,0.43:0.95,0.53:0.38,0.69:0.05,0.89:0.06,1.17:0",
"0.42:0,0.59:1.0,0.72:0.4,0.81:0.3,0.97:0.05,1.48:0",
"0.83:0.15,1.05:0.55,1.29:0.8,1.5:0.4,2.0:0.3",
"0.41:0,0.58:0.95,0.73:0.35,0.97:0.2,1.07:0.3,1.21:0.15,1.34:0.05,1.54:0.12,2.0:0.03",
"0.24:0,0.38:1.0,0.48:0.2,0.73:0.02,1.07:0",
"0.37:0,0.51:0.95,0.65:0.55,0.77:0.25,0.81:0.05,1.05:0.06,1.62:0",
"0.24:0,0.41:0.9,0.53:0.35,0.73:0.05,2.0:0",
"0.37:0,0.46:0.9,0.57:0.25,0.73:0.02,1.2:0",
"0.42:0,0.5:0.6,0.54:0.9,0.6:0.45,0.64:0.5,0.73:0.15,0.97:0.08,1.6:0",
"0.36:0,0.45:1.05,0.57:0.3,0.7:0.05,0.97:0",
"0.47:0,0.6:0.85,0.67:0.9,0.81:0.55,1.01:0.1,1.34:0.03,1.72:0",
"0.32:0,0.57:0.2,0.81:0.28,1.13:0.2,1.54:0.05,2.0:0",
"0.38:0,0.5:0.95,0.69:0.12,0.89:0.12,0.97:0.05,2.0:0",
"0.26:0,0.4:0.3,0.52:0.95,0.69:0.15,0.97:0.05,1.36:0",
"0.46:0,0.58:0.95,0.73:0.35,0.8:0.4,0.89:0.2,1.05:0.08,1.88:0",
"0.36:0,0.42:1.0,0.55:0.4,0.7:0.15,0.97:0.02,1.1:0",
"0.38:0,0.48:1.0,0.6:0.35,0.73:0.05,0.99:0",
"0.33:0,0.47:0.95,0.57:0.5,0.69:0.1,0.81:0.05,1.15:0",
"0.41:0,0.48:1.0,0.6:0.3,0.81:0.08,1.03:0",
"0.34:0,0.45:0.95,0.55:0.3,0.73:0.05,1.27:0",
"0.3:0,0.39:0.95,0.5:0.25,0.6:0",
]

P3_B1 = [
"0.34:0,0.45:0.73,0.54:0.3,0.68:0.1,0.85:0.02,1.21:0",
"0.34:0,0.42:0.25,0.54:0.45,0.68:0.3,0.89:0.15,1.09:0.05,2.0:0",
"0.3:0,0.4:0.15,0.52:0.6,0.64:1.0,0.78:0.25,1.05:0.12,1.29:0.05,1.75:0",
"0.42:0,0.45:0.45,0.56:0.4,0.68:0.76,0.8:0.4,1.0:0.25,1.17:0.1,1.5:0.02,2.0:0",
"0.46:0,0.56:0.65,0.68:0.35,0.89:0.15,1.09:0.02,1.57:0",
"0.34:0,0.52:0.78,0.68:0.5,0.85:0.2,1.09:0.06,2.0:0",
"0.18:0,0.28:0.02,0.38:0.4,0.47:0.92,0.6:0.4,0.8:0.15,1.0:0.05,1.47:0",
"0.32:0,0.5:0.56,0.64:0.45,0.76:0.1,0.95:0",
"0.32:0,0.41:1.0,0.56:0.3,0.58:0.2,0.72:0.3,0.88:0.1,1.1:0.02,1.49:0",
"0.12:0,0.32:0.02,0.45:0.3,0.6:0.63,0.8:0.3,1.0:0.1,1.3:0.02,1.67:0",
"",
"0.48:0,0.66:0.65,0.89:0.25,1.09:0.1,1.49:0.1,1.61:0.02,2.0:0",
"0.45:0,0.6:0.82,0.72:0.3,0.93:0.1,1.17:0.02,2.0:0",
"0.33:0,0.54:0.45,0.72:0.3,0.97:0.15,1.09:0.05,2.0:0",
"0.36:0,0.56:0.77,0.72:0.3,0.85:0.15,0.9:0.02,2.0:0",
"0.28:0,0.4:0.82,0.52:0.3,0.68:0.25,0.93:0.1,1.09:0.03,2.0:0",
"0.5:0.12,0.89:0.3,1.21:0.35,1.49:0.25,2.0:0.15",
"0.12:0,0.32:0.1,0.44:0.4,0.58:1.0,0.72:0.4,0.93:0.1,1.09:0.02,2.0:0",
"0.38:0,0.52:1.0,0.68:0.45,0.76:0.2,1.0:0.15,1.21:0.05,2.0:0",
"0.4:0,0.58:0.95,0.72:0.35,0.93:0.15,1.09:0.05,2.0:0",
"0.44:0,0.58:0.45,0.72:0.3,0.89:0.05,1.35:0",
"0.5:0,0.7:0.93,0.89:0.3,1.0:0.1,1.29:0.05,2.0:0",
"0.27:0,0.45:0.8,0.56:0.5,0.72:0.15,0.78:0",
"0.35:0,0.48:0.3,0.62:1.0,0.72:0.6,0.85:0.4,1.05:0.15,1.49:0.05,2.0:0",
"0.5:0,0.68:0.25,0.8:0.35,1.09:0.15,1.49:0.05,2.0:0",
"0.05:0,0.4:0.02,0.6:0.4,0.78:0.6,1.0:0.2,1.21:0.05,2.0:0",
"0.36:0,0.52:0.85,0.72:0.2,0.97:0.08,1.09:0.03,2.0:0",
"0.41:0,0.6:0.68,0.72:0.45,0.85:0.4,1.05:0.1,1.29:0.05,1.75:0",
"0.26:0,0.36:0.35,0.46:0.55,0.56:0.25,0.68:0.1,1.09:0.01,2.0:0",
"0.4:0,0.62:0.7,0.89:0.2,1.09:0.15,1.49:0.05,2.0:0",
"0.38:0,0.5:0.95,0.58:0.45,0.8:0.25,1.05:0.05,1.21:0.05,2.0:0",
"",
"0.4:0,0.54:0.75,0.72:0.3,0.93:0.1,1.8:0",
"",
"0.32:0,0.4:0.8,0.5:0.75,0.6:0.2,0.76:0.02,1.05:0",
"0.49:0.05,0.6:0.35,0.76:0.38,0.93:0.35,1.09:0.1,1.49:0.05,2.0:0",
"0.28:0,0.39:0.9,0.52:0.25,0.6:0.3,0.72:0.1,1.37:0",
"0.37:0,0.52:0.75,0.68:0.4,0.89:0.2,1.09:0.05,1.55:0",
"0.29:0,0.41:0.95,0.52:0.3,0.68:0.05,0.85:0",
"0.38:0,0.51:0.9,0.68:0.25,0.8:0.05,0.93:0",
"0.35:0,0.46:0.75,0.6:0.3,0.76:0.1,1.09:0.02,1.21:0",
"0.33:0,0.48:0.5,0.58:0.8,0.76:0.3,0.93:0.1,1.09:0.05,2.0:0",
"0.35:0,0.5:0.55,0.68:0.2,0.89:0.08,1.05:0",
"0.31:0,0.44:0.9,0.6:0.2,0.89:0.05,1.4:0",
"0.31:0,0.48:0.45,0.68:0.3,0.8:0.3,0.93:0.1,1.21:0.03,1.73:0",
"0.29:0,0.5:0.85,0.68:0.4,0.93:0.15,1.09:0.1,2.0:0",
"0.43:0.05,0.6:0.25,0.93:0.05,2.0:0",
"0.25:0,0.32:0.1,0.5:1.0,0.68:0.15,0.93:0.08,1.63:0",
"0.25:0,0.36:0.2,0.5:0.65,0.68:0.4,0.89:0.05,2.0:0",
"0.31:0,0.45:0.85,0.6:0.15,0.8:0.02,1.64:0",
"0.54:0,0.78:0.6,1.09:0.35,1.49:0.15,2.0:0.05",
"0.4:0,0.5:0.85,0.6:0.45,0.72:0.2,0.93:0.05,1.37:0",
"0.33:0,0.52:0.95,0.68:0.3,0.8:0.3,0.93:0.1,1.09:0.05,2.0:0",
"",
"",
"0.28:0,0.43:0.68,0.56:0.3,0.68:0.05,0.97:0",
"",
"",
"0.32:0,0.44:0.7,0.56:0.2,0.64:0.25,0.8:0.05,1.13:0",
"0.32:0,0.5:0.95,0.6:0.6,0.68:0.7,0.89:0.2,1.09:0.05,1.41:0",
"",
"",
"0.48:0,0.6:0.45,0.85:0.4,1.09:0.15,1.49:0.03,2.0:0",
"0.35:0,0.5:0.45,0.68:0.25,0.93:0.1,1.09:0.03,2.0:0",
"0.46:0,0.58:0.65,0.72:0.35,0.89:0.05,1.8:0",
"0.33:0,0.49:1.0,0.64:0.3,0.76:0.1,0.89:0.02,0.91:0",
"0.43:0,0.56:0.7,0.72:0.3,0.89:0.05,1.53:0",
"",
"0.32:0,0.48:0.45,0.68:0.35,0.89:0.08,1.09:0.02,1.92:0",
"0.35:0,0.48:0.55,0.6:0.35,0.68:0.3,0.8:0.15,1.0:0.03,1.33:0",
"0.36:0,0.5:0.78,0.6:0.4,0.76:0.2,0.89:0.03,1.53:0",
"0.3:0,0.45:0.9,0.6:0.3,0.8:0.05,1.27:0",
"0.29:0,0.5:1.0,0.64:0.3,0.85:0.05,1.19:0",
"0.35:0,0.6:0.2,0.91:0.5,1.17:0.2,1.49:0.1,2.0:0.1",
"0.32:0,0.44:0.75,0.54:0.25,0.64:0.3,0.85:0.1,1.09:0.02,2.0:0",
"0.29:0,0.5:0.95,0.68:0.3,0.85:0.08,1.09:0.02,1.4:0",
"0.14:0,0.36:0.02,0.48:0.25,0.64:0.6,0.89:0.15,1.09:0.05,2.0:0",
"0.24:0,0.4:0.15,0.58:0.35,0.8:0.15,0.97:0.05,2.0:0",
"0.36:0,0.47:0.8,0.56:0.3,0.68:0.1,0.8:0.02,0.91:0",
"0.29:0,0.41:0.88,0.56:0.35,0.64:0.1,1.05:0",
"0.4:0,0.6:0.8,0.76:0.45,0.93:0.2,1.09:0.05,1.92:0",
"0.8:0.15,1.09:0.5,1.45:0.65,1.77:0.4,2.0:0.2",
"",
"0.32:0,0.47:0.5,0.6:0.2,0.89:0.05,0.99:0",
"0.3:0,0.44:0.9,0.64:0.4,0.8:0.08,1.09:0.02,2.0:0",
"0.32:0,0.42:0.55,0.56:0.3,0.68:0.15,1.09:0.03,2.0:0",
"0.35:0,0.46:0.45,0.6:0.3,0.76:0.1,0.93:0.03,1.72:0",
"0.35:0,0.56:0.45,0.8:0.2,1.09:0.05,1.93:0",
"0.3:0,0.43:0.68,0.56:0.2,0.68:0.05,2.0:0",
"0.37:0,0.52:0.9,0.68:0.6,0.93:0.2,1.09:0.1,1.49:0.03,2.0:0",
"0.02:0.05,0.2:0.3,0.38:0.98,0.52:0.7,0.68:0.4,0.85:0.1,1.09:0.03,2.0:0",
"0.36:0,0.52:0.55,0.72:0.5,0.89:0.15,1.09:0.05,1.73:0",
"0.33:0.15,0.48:0.35,0.58:0.9,0.72:0.35,0.85:0.2,1.0:0.03,1.89:0",
"0.29:0,0.4:0.1,0.58:0.65,0.76:0.25,1.0:0.08,1.21:0.03,2.0:0",
"",
"0.37:0,0.54:0.5,0.68:0.35,0.89:0.1,1.09:0.02,1.21:0",
"0.29:0,0.45:0.95,0.6:0.4,0.85:0.1,1.13:0",
"0.42:0,0.54:0.8,0.64:0.3,0.76:0.1,0.95:0",
"0.29:0,0.4:1.0,0.48:0.6,0.56:0.2,0.76:0.02,1.03:0",
"0.29:0,0.4:0.75,0.56:0.15,0.76:0.02,0.85:0",
]

P3_B2 = [
"0.33:0,0.44:0.6,0.54:0.3,0.68:0.1,0.85:0.02,1.2:0",
"0.35:0,0.45:0.3,0.62:0.52,0.75:0.3,0.95:0.1,1.2:0.03,2.0:0",
"0.3:0,0.42:0.15,0.62:0.8,0.78:0.3,1.05:0.12,1.3:0.05,2.0:0",
"0.43:0,0.5:0.2,0.65:0.5,0.8:0.38,1.0:0.2,1.2:0.08,2.0:0",
"0.41:0,0.55:0.6,0.68:0.35,0.89:0.12,1.09:0.02,1.57:0",
"0.35:0,0.53:0.75,0.68:0.48,0.85:0.2,1.09:0.06,2.0:0",
"0.3:0,0.44:1.0,0.58:0.4,0.8:0.12,1.0:0.04,1.47:0",
"0.14:0,0.3:0.02,0.48:0.95,0.6:0.4,0.76:0.1,0.95:0",
"0.33:0,0.42:0.9,0.56:0.35,0.66:0.35,0.85:0.1,1.1:0.02,1.49:0",
"0.3:0,0.45:0.35,0.62:0.6,0.8:0.3,1.0:0.1,1.3:0.02,1.67:0",
"",
"0.44:0,0.64:0.6,0.89:0.22,1.09:0.1,1.49:0.08,1.7:0.02,2.0:0",
"0.47:0,0.57:1.0,0.7:0.3,0.93:0.08,1.17:0.02,2.0:0",
"0.35:0,0.54:0.65,0.72:0.35,0.95:0.1,1.09:0.04,2.0:0",
"0.38:0,0.55:0.7,0.72:0.28,0.85:0.25,0.95:0.02,2.0:0",
"0.3:0,0.45:0.65,0.55:0.35,0.68:0.25,0.93:0.08,1.09:0.03,2.0:0",
"0.5:0.08,0.75:0.4,1.0:0.68,1.2:0.6,1.49:0.35,1.97:0.05",
"0.14:0,0.32:0.08,0.45:0.4,0.6:0.9,0.74:0.45,0.93:0.1,1.09:0.02,2.0:0",
"0.4:0,0.55:0.85,0.68:0.45,0.8:0.2,1.0:0.12,1.21:0.04,2.0:0",
"0.41:0,0.58:0.9,0.72:0.38,0.93:0.15,1.09:0.05,2.0:0",
"0.45:0,0.6:0.6,0.72:0.3,0.89:0.05,1.1:0.02,1.84:0",
"0.5:0,0.72:0.6,0.89:0.4,1.0:0.15,1.29:0.05,2.0:0",
"0.28:0,0.44:0.9,0.56:0.45,0.72:0.12,0.97:0",
"0.37:0,0.5:0.3,0.63:0.8,0.75:0.55,0.9:0.35,1.05:0.15,1.49:0.04,2.0:0",
"0.5:0,0.7:0.25,0.85:0.3,0.99:0.35,1.09:0.15,1.49:0.04,2.0:0",
"0.58:0,0.75:0.35,0.9:0.8,1.13:0.2,1.3:0.05,2.0:0",
"0.15:0,0.33:0.03,0.54:0.75,0.72:0.2,0.97:0.08,1.09:0.03,2.0:0",
"0.43:0,0.62:0.6,0.75:0.5,0.88:0.35,1.05:0.1,1.29:0.04,2.0:0",
"0.27:0,0.37:0.3,0.48:0.6,0.56:0.2,0.68:0.08,1.09:0.01,2.0:0",
"0.41:0,0.62:0.65,0.89:0.25,1.09:0.15,1.49:0.05,2.0:0",
"0.4:0,0.52:0.85,0.6:0.45,0.8:0.22,1.05:0.05,2.0:0",
"",
"0.39:0,0.55:0.8,0.72:0.28,0.93:0.08,1.8:0",
"",
"0.33:0,0.42:0.85,0.5:0.65,0.6:0.18,0.76:0.02,2.0:0",
"0.5:0.05,0.62:0.32,0.78:0.35,0.95:0.3,1.09:0.1,1.49:0.04,2.0:0",
"0.29:0,0.4:0.85,0.52:0.28,0.6:0.25,0.72:0.08,1.37:0",
"0.38:0,0.54:0.7,0.7:0.38,0.89:0.18,1.09:0.05,1.55:0",
"0.3:0,0.43:0.85,0.52:0.3,0.68:0.05,0.85:0",
"0.33:0,0.52:0.85,0.68:0.28,0.8:0.04,0.93:0",
"0.36:0,0.47:0.7,0.6:0.28,0.76:0.1,1.09:0.02,2.0:0",
"0.34:0,0.52:1.0,0.65:0.45,0.8:0.25,0.93:0.1,1.09:0.04,2.0:0",
"0.36:0,0.5:0.5,0.68:0.2,0.89:0.06,1.26:0",
"0.13:0,0.3:0.05,0.44:0.85,0.6:0.2,0.89:0.04,1.4:0",
"0.32:0,0.5:0.45,0.7:0.28,0.82:0.28,0.95:0.1,1.21:0.03,2.0:0",
"0.3:0,0.55:0.55,0.7:0.4,0.93:0.2,1.2:0.15,1.5:0.05,2.0:0",
"0.43:0.03,0.62:0.22,0.93:0.05,2.0:0",
"0.26:0,0.33:0.08,0.52:0.7,0.68:0.15,0.93:0.06,2.0:0",
"0.26:0,0.37:0.25,0.48:0.75,0.68:0.35,0.89:0.05,2.0:0",
"0.32:0,0.46:0.8,0.6:0.18,0.8:0.02,1.64:0",
"0.46:0,0.7:0.55,1.09:0.35,1.49:0.12,2.0:0.05",
"0.37:0,0.48:0.9,0.6:0.4,0.72:0.2,0.93:0.04,1.91:0",
"0.34:0,0.53:0.9,0.68:0.32,0.8:0.25,0.93:0.1,1.09:0.04,2.0:0",
"",
"",
"0.29:0,0.44:0.6,0.56:0.3,0.68:0.05,0.97:0",
"",
"",
"0.33:0,0.5:0.7,0.6:0.25,0.8:0.05,1.68:0",
"0.33:0,0.52:0.8,0.62:0.65,0.7:0.65,0.89:0.2,1.09:0.05,1.41:0",
"",
"",
"0.44:0,0.58:0.4,0.83:0.42,1.09:0.15,1.49:0.03,2.0:0",
"0.36:0,0.5:0.42,0.68:0.25,0.93:0.1,1.09:0.03,2.0:0",
"0.47:0,0.6:0.6,0.72:0.35,0.89:0.05,1.8:0",
"0.34:0,0.5:0.8,0.64:0.35,0.76:0.1,0.89:0.02,1.19:0",
"0.42:0,0.57:0.65,0.72:0.3,0.89:0.05,1.53:0",
"",
"0.31:0,0.45:0.45,0.68:0.35,0.89:0.08,1.09:0.02,1.92:0",
"0.36:0,0.5:0.8,0.6:0.3,0.68:0.32,0.8:0.12,1.0:0.03,1.4:0",
"0.37:0,0.51:0.75,0.62:0.38,0.76:0.2,0.89:0.03,2.0:0",
"0.31:0,0.46:0.85,0.6:0.3,0.8:0.05,2.0:0",
"0.3:0,0.5:0.9,0.64:0.35,0.85:0.05,1.34:0",
"0.4:0,0.6:0.25,0.9:0.48,1.17:0.22,1.49:0.1,2.0:0.08",
"0.33:0,0.45:0.7,0.54:0.3,0.64:0.25,0.85:0.1,1.09:0.02,2.0:0",
"0.3:0,0.51:0.9,0.68:0.3,0.85:0.08,1.09:0.02,1.4:0",
"0.3:0,0.4:0.05,0.5:0.25,0.66:0.55,0.89:0.15,1.09:0.05,2.0:0",
"0.0:0.6,0.04:1.0,0.12:0.5,0.18:0.05,0.28:0.05,0.48:0.3,0.68:0.3,0.93:0.08,2.0:0",
"0.37:0,0.48:1.0,0.56:0.35,0.68:0.1,0.8:0.02,0.95:0",
"0.3:0,0.42:0.85,0.56:0.33,0.64:0.1,1.05:0",
"0.41:0,0.6:0.78,0.76:0.45,0.93:0.2,1.09:0.05,1.92:0",
"0.74:0.2,1.0:0.35,1.4:0.5,1.77:0.35,2.0:0.2",
"",
"0.33:0,0.48:0.45,0.6:0.2,0.89:0.05,1.84:0",
"0.31:0,0.45:0.85,0.64:0.4,0.8:0.08,1.09:0.02,2.0:0",
"0.33:0,0.43:0.5,0.56:0.3,0.68:0.15,1.09:0.03,2.0:0",
"0.36:0,0.47:0.42,0.6:0.3,0.76:0.1,0.93:0.03,1.72:0",
"0.36:0,0.57:0.45,0.8:0.2,1.09:0.05,1.93:0",
"0.15:0,0.3:0.05,0.43:0.65,0.56:0.2,0.68:0.05,2.0:0",
"0.38:0,0.55:1.0,0.68:0.55,0.93:0.2,1.09:0.1,1.49:0.03,2.0:0",
"0.2:0,0.3:0.2,0.46:0.55,0.6:0.45,0.68:0.3,0.85:0.1,1.09:0.03,2.0:0",
"0.37:0,0.53:0.55,0.72:0.45,0.89:0.15,1.09:0.05,1.73:0",
"0.21:0,0.35:0.2,0.55:0.55,0.72:0.3,0.85:0.15,1.0:0.03,1.89:0",
"0.3:0,0.41:0.1,0.59:0.6,0.76:0.25,1.0:0.08,1.21:0.03,2.0:0",
"",
"0.38:0,0.55:0.48,0.68:0.35,0.89:0.1,1.09:0.02,1.32:0",
"0.3:0,0.45:0.9,0.6:0.4,0.85:0.1,1.13:0",
"0.4:0,0.46:1.0,0.58:0.45,0.76:0.1,0.95:0",
"0.3:0,0.41:0.9,0.5:0.55,0.58:0.2,0.76:0.02,2.0:0",
"0.3:0,0.41:0.7,0.56:0.15,0.76:0.02,0.85:0",
]

# subjects drawn in a highlight colour: (panel index, row index) -> colour
HIGHLIGHT = {(0, 47): "#FFA500", (2, 77): "#F2413A"}

BLOCKS = ["1", "2"]

# ---------------- layout constants ----------------
W, H = 1920, 3840
N = len(SUBJECTS)
ROW_PX = 36.5                 # vertical distance between facet rows
BASE_PX = 3695.7              # pixel (from top) of the bottom row baseline
TOP_PX = 50.0
PEAK_PX = 20.7                # pixel height of a density of relative height 1
HSCALE = PEAK_PX / ROW_PX
PANELS_PX = [(108.6, 639.6), (654.6, 1186.7), (1202.8, 1734.9)]
BLUE = "#0000FF"
GREY = "#D3D3D3"
DOT = "4px,4px"
LW = 2.3
FONT = "Liberation Sans, Arial, sans-serif"


def parse(s):
    if not s:
        return []
    return [(float(a), float(b)) for a, b in (p.split(":") for p in s.split(","))]


def offset(i):
    return (N - 1 - i)


fig = go.Figure()
panel_data = [(P1_B1, P1_B2), (P2_B1, P2_B2), (P3_B1, P3_B2)]

for p in range(3):
    xa = "x" if p == 0 else "x%d" % (p + 1)
    ya = "y" if p == 0 else "y%d" % (p + 1)
    # grey reference densities
    gx, gy = [], []
    for i in range(N):
        o = offset(i)
        gx += GREY_X + [None]
        gy += [o + h * HSCALE for h in GREY_H] + [None]
    fig.add_trace(go.Scatter(x=gx, y=gy, xaxis=xa, yaxis=ya, mode="lines",
                             fill="toself", fillcolor=GREY,
                             line=dict(color=GREY, width=1),
                             hoverinfo="skip", showlegend=False))
    # subject densities, per block
    for b, series in enumerate(panel_data[p]):
        bx, by = [], []
        special = []
        for i in range(N):
            pts = parse(series[i])
            if not pts:
                continue
            xs = [q[0] for q in pts]
            ys = [offset(i) + q[1] * HSCALE for q in pts]
            if (p, i) in HIGHLIGHT:
                special.append((xs, ys, HIGHLIGHT[(p, i)]))
                continue
            bx += xs + [None]
            by += ys + [None]
        dash = "solid" if b == 0 else DOT
        fig.add_trace(go.Scatter(x=bx, y=by, xaxis=xa, yaxis=ya, mode="lines",
                                 line=dict(color=BLUE, width=LW, dash=dash,
                                           shape="spline", smoothing=0.6),
                                 hoverinfo="skip", showlegend=False))
        for xs, ys, col in special:
            fig.add_trace(go.Scatter(x=xs, y=ys, xaxis=xa, yaxis=ya, mode="lines",
                                     line=dict(color=col, width=LW, dash=dash,
                                               shape="spline", smoothing=0.6),
                                     hoverinfo="skip", showlegend=False))

# legend entries
for b, name in enumerate(BLOCKS):
    fig.add_trace(go.Scatter(x=[None], y=[None], mode="lines", name=name,
                             line=dict(color="black", width=2,
                                       dash="solid" if b == 0 else DOT)))

y_dom = [1 - BASE_PX / H, 1 - TOP_PX / H]
y_rng = [0, (BASE_PX - TOP_PX) / ROW_PX]

layout = dict(
    width=W, height=H, margin=dict(l=0, r=0, t=0, b=0),
    paper_bgcolor="white", plot_bgcolor="white",
    font=dict(family=FONT, color="#1A1A1A"),
    legend=dict(title=dict(text="Block", font=dict(size=28, color="#1A1A1A")),
                font=dict(size=26, color="#1A1A1A"),
                x=1790 / W, y=1 - 1630 / H, xanchor="left", yanchor="top",
                bgcolor="rgba(0,0,0,0)", itemwidth=30),
    showlegend=True,
)
ticks = [0, 0.5, 1.0, 1.5, 2.0]
for p in range(3):
    k = "" if p == 0 else str(p + 1)
    x0, x1 = PANELS_PX[p]
    layout["xaxis" + k] = dict(
        domain=[x0 / W, x1 / W], range=[0, 2], anchor="y" + k,
        showgrid=False, zeroline=False, showline=True, linecolor="black", linewidth=2,
        tickvals=ticks, ticktext=["%.1f" % t for t in ticks],
        ticks="outside", ticklen=12, tickcolor="rgba(0,0,0,0)",
        tickfont=dict(size=31, color="#4D4D4D", family=FONT),
    )
    layout["yaxis" + k] = dict(
        domain=y_dom, range=y_rng, anchor="x" + k,
        showgrid=False, zeroline=False, showline=False, showticklabels=False, ticks="",
    )
fig.update_layout(**layout)

annotations = []
for p, t in enumerate(TASKS):
    x0, x1 = PANELS_PX[p]
    annotations.append(dict(text=t, x=(x0 + x1) / 2 / W, y=1 - 40 / H, xref="paper", yref="paper",
                            xanchor="center", yanchor="middle", showarrow=False,
                            font=dict(size=22, color="#1A1A1A", family=FONT, weight="bold")))
for i, s in enumerate(SUBJECTS):
    annotations.append(dict(text=s, x=1753 / W, y=offset(i) + 10 / ROW_PX,
                            xref="paper", yref="y3", xanchor="center", yanchor="middle",
                            textangle=90, showarrow=False,
                            font=dict(size=12, color="#1A1A1A", family=FONT, weight="bold")))
annotations.append(dict(text="Reaction Time (s)", x=921 / W, y=1 - 3807 / H, xref="paper", yref="paper",
                        xanchor="center", yanchor="middle", showarrow=False,
                        font=dict(size=34, color="black", family=FONT)))
fig.update_layout(annotations=annotations)

fig.write_html("out.html")
